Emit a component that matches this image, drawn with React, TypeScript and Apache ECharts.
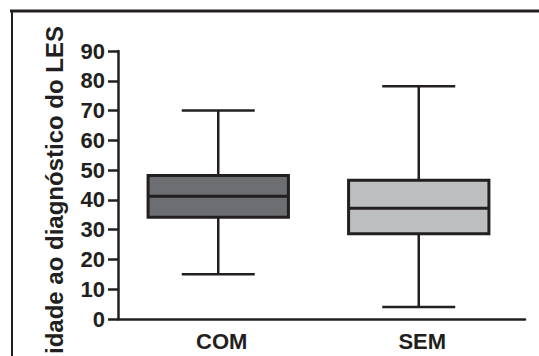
import React, { useEffect, useRef } from "react";
import * as echarts from "echarts";

const categories = ["COM", "SEM"];
// [min, Q1, median, Q3, max]
const whiskerMin = [15, 4];
const quartile1 = [34.2, 28.6];
const medians = [41.2, 37.2];
const quartile3 = [48.2, 46.6];
const whiskerMax = [70, 78.2];
const yTicks = [0, 10, 20, 30, 40, 50, 60, 70, 80, 90];
const yTitle = "idade ao diagnóstico do LES";

const boxFills = ["#6d6e71", "#bcbec0"];
const ink = "#231f20";
const font = "'Liberation Sans', Arial, Helvetica, sans-serif";

export default function App() {
  const ref = useRef<HTMLDivElement>(null);
  useEffect(() => {
    if (!ref.current) return;
    const chart = echarts.init(ref.current, undefined, { renderer: "svg" });
    const data = categories.map((_, i) => [
      i,
      whiskerMin[i],
      quartile1[i],
      medians[i],
      quartile3[i],
      whiskerMax[i],
    ]);
    const gridLeft = 118;
    const gridTop = 51;
    const gridHeight = 268;
    chart.setOption({
      animation: false,
      backgroundColor: "#ffffff",
      grid: [
        { left: gridLeft, top: gridTop, width: 401, height: gridHeight },
        { left: gridLeft, top: gridTop, width: 407, height: gridHeight },
      ],
      xAxis: [
        {
          type: "category",
          gridIndex: 0,
          data: categories,
          boundaryGap: true,
          axisLine: { show: false },
          axisTick: { show: false },
          axisLabel: {
            color: ink,
            fontFamily: font,
            fontWeight: "bold",
            fontSize: 22,
            margin: 11,
            padding: [0, 0, 0, 7],
          },
        },
        {
          type: "value",
          gridIndex: 1,
          min: 0,
          max: 1,
          axisLine: { show: true, lineStyle: { color: ink, width: 2.5 } },
          axisTick: { show: false },
          axisLabel: { show: false },
          splitLine: { show: false },
        },
      ],
      yAxis: [
        {
          type: "value",
          gridIndex: 0,
          min: yTicks[0],
          max: yTicks[yTicks.length - 1],
          interval: yTicks[1] - yTicks[0],
          axisLine: { show: true, lineStyle: { color: ink, width: 2.5 } },
          axisTick: {
            show: true,
            inside: false,
            length: 10,
            lineStyle: { color: ink, width: 2.5 },
          },
          axisLabel: {
            color: ink,
            fontFamily: font,
            fontWeight: "bold",
            fontSize: 22,
            margin: 13,
          },
          splitLine: { show: false },
        },
        { type: "value", gridIndex: 1, show: false, min: 0, max: 1 },
      ],
      graphic: [
        {
          type: "line",
          shape: { x1: 10, y1: 11, x2: 545, y2: 11 },
          style: { stroke: ink, lineWidth: 3 },
          z: 100,
        },
        {
          type: "line",
          shape: { x1: 12, y1: 10, x2: 12, y2: 360 },
          style: { stroke: ink, lineWidth: 2 },
          z: 100,
        },
        {
          type: "text",
          x: 54,
          y: 190,
          rotation: Math.PI / 2,
          style: {
            text: yTitle,
            fill: ink,
            font: `bold 24px ${font}`,
            textAlign: "center",
            textVerticalAlign: "middle",
            align: "center",
            verticalAlign: "middle",
          },
        },
      ],
      series: [
        {
          type: "custom",
          xAxisIndex: 0,
          yAxisIndex: 0,
          data,
          encode: { x: 0, y: [1, 2, 3, 4, 5] },
          renderItem: (params: any, api: any) => {
            const idx = api.value(0);
            const pMin = api.coord([idx, api.value(1)]);
            const pQ1 = api.coord([idx, api.value(2)]);
            const pMed = api.coord([idx, api.value(3)]);
            const pQ3 = api.coord([idx, api.value(4)]);
            const pMax = api.coord([idx, api.value(5)]);
            const band = api.size([1, 0])[0];
            const boxW = band * 0.7;
            const capW = boxW * 0.52;
            const cx = pMed[0];
            const lineStyle = { stroke: ink, lineWidth: 2.5 };
            return {
              type: "group",
              children: [
                {
                  type: "line",
                  shape: { x1: cx, y1: pMax[1], x2: cx, y2: pQ3[1] },
                  style: lineStyle,
                },
                {
                  type: "line",
                  shape: { x1: cx, y1: pQ1[1], x2: cx, y2: pMin[1] },
                  style: lineStyle,
                },
                {
                  type: "line",
                  shape: { x1: cx - capW / 2, y1: pMax[1], x2: cx + capW / 2, y2: pMax[1] },
                  style: lineStyle,
                },
                {
                  type: "line",
                  shape: { x1: cx - capW / 2, y1: pMin[1], x2: cx + capW / 2, y2: pMin[1] },
                  style: lineStyle,
                },
                {
                  type: "rect",
                  shape: {
                    x: cx - boxW / 2,
                    y: pQ3[1],
                    width: boxW,
                    height: pQ1[1] - pQ3[1],
                  },
                  style: { fill: boxFills[params.dataIndex], stroke: ink, lineWidth: 3 },
                },
                {
                  type: "line",
                  shape: { x1: cx - boxW / 2, y1: pMed[1], x2: cx + boxW / 2, y2: pMed[1] },
                  style: { stroke: ink, lineWidth: 3 },
                },
              ],
            };
          },
        },
      ],
    });
    return () => chart.dispose();
  }, []);
  return (
    <div
      ref={ref}
      style={{ position: "absolute", left: 0, top: 0, width: 539, height: 356 }}
    />
  );
}
